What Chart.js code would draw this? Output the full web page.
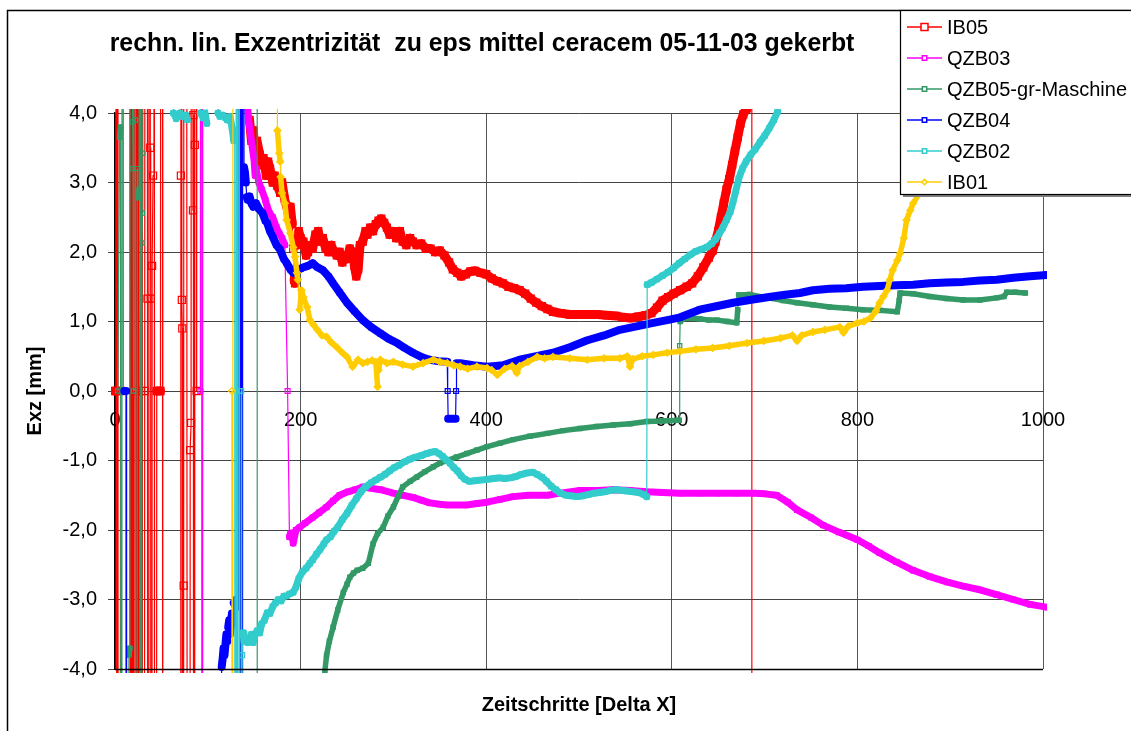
<!DOCTYPE html>
<html>
<head>
<meta charset="utf-8">
<script src="https://cdn.jsdelivr.net/npm/chart.js@4.4.1/dist/chart.umd.min.js"></script>
<style>
html,body{margin:0;padding:0;background:#fff;}
#wrap{width:1131px;height:731px;}
</style>
</head>
<body>
<div id="wrap"><canvas id="c" width="1131" height="731"></canvas></div>
<script>
// ---- data (x = Zeitschritte, y = Exz [mm]); values beyond the axis range are off-chart excursions
const IB05 = [[0,0],[1,0],[1.5,60],[2,-60],[3,60],[3.5,-60],[6,0],[16,-60],[16.5,60],[17,-60],[18,60],[18.5,-60],[19,60],[20,-60],[21,60],[22,0],[22.5,-60],[24,60],[25,-60],[25.5,60],[26,0],[27,-60],[28,0],[29,60],[30,-60],[32,0],[34,60],[35,1.33],[36,-60],[37,60],[38,3.5],[38.5,1.33],[39,-60],[40,1.8],[41,3.1],[42,60],[43,-60],[45,0],[49,0],[51,60],[51.5,-60],[70,-60],[71,3.1],[71.5,60],[72,1.31],[72.5,0.9],[73,-60],[74,-2.8],[75,60],[80,-60],[81,-0.85],[82,-0.46],[83,60],[84,2.6],[84.5,3.97],[85,-60],[86,3.54],[87,60],[88,0],[89,60],
[145,3.9],[147,3.6],[149,3.75],[151,3.45],[153,3.6],[156,3.4],[158,3.25],[160,3.35],[163,3.1],[165,3.3],[167,3.2],[170,3.0],[172,3.1],[175,2.95],[178,2.85],[180,3.0],[183,2.75],[186,2.6],[189,2.65],[191,2.4],[192,2.05],[193,1.6],[194,1.55],[196,2.1],[198,2.3],[200,2.2],[203,2.15],[206,1.95],[208,2.0],[211,2.1],[213,2.05],[216,2.25],[219,2.3],[221,2.15],[224,2.2],[227,2.05],[230,2.0],[233,2.1],[236,2.0],[239,1.95],[242,2.0],[245,1.85],[248,1.95],[250,1.9],[253,2.05],[256,2.0],[258,1.8],[260,1.65],[262,1.75],[264,2.1],[267,2.15],[270,2.3],[272,2.25],[275,2.35],[278,2.3],[281,2.4],[284,2.45],[287,2.48],[290,2.42],[293,2.35],[296,2.25],[300,2.3],[303,2.2],[307,2.3],[310,2.15],[314,2.1],[318,2.2],[321,2.15],[325,2.1],[330,2.12],[335,2.05],[340,2.05],[345,2.0],[350,2.02],[355,1.95],[360,1.85],[364,1.75],[369,1.7],[373,1.65],[378,1.68],[383,1.72],[388,1.73],[394,1.7],[400,1.68],[406,1.62],[412,1.58],[418,1.55],[424,1.5],[430,1.48],[436,1.45],[442,1.4],[448,1.33],[454,1.27],[460,1.22],[466,1.18],[472,1.14],[480,1.12],[490,1.1],[500,1.1],[510,1.1],[520,1.1],[530,1.09],[540,1.08],[548,1.06],[556,1.05],[564,1.07],[572,1.09],[578,1.12],[584,1.2],[590,1.3],[596,1.35],[602,1.4],[609,1.45],[616,1.5],[622,1.55],[628,1.65],[634,1.78],[640,1.92],[644,2.02],[647,2.15],[650,2.3],[653,2.5],[656,2.7],[659,2.9],[662,3.05],[665,3.25],[668,3.45],[671,3.65],[674,3.85],[677,3.98],[680,4.05],[681,4.1],[686,60],[686.5,-60]];

const QZB03 = [[92,0],[93,60],[94,-60],[95,60],[143,4.1],[144,3.9],[146,3.7],[148,3.5],[150,3.3],[151,3.1],[152,3.2],[155,3.0],[158,2.9],[162,2.75],[164,2.65],[167,2.55],[170,2.5],[174,2.35],[177,2.27],[180,2.2],[183,2.1],[186,0],[188,-2.1],[189,-2.05],[191,-2.04],[192,-2.19],[195,-2.0],[199,-1.96],[205,-1.9],[213,-1.82],[220,-1.75],[228,-1.67],[235,-1.58],[242,-1.5],[251,-1.45],[259,-1.42],[267,-1.38],[276,-1.4],[286,-1.42],[300,-1.47],[310,-1.5],[321,-1.53],[330,-1.57],[339,-1.61],[350,-1.63],[358,-1.64],[368,-1.64],[379,-1.64],[390,-1.62],[401,-1.6],[415,-1.56],[429,-1.52],[445,-1.5],[466,-1.5],[480,-1.47],[501,-1.43],[520,-1.43],[537,-1.42],[555,-1.43],[573,-1.45],[590,-1.46],[609,-1.47],[630,-1.47],[650,-1.47],[670,-1.47],[690,-1.47],[700,-1.48],[713,-1.5],[725,-1.6],[735,-1.71],[750,-1.82],[763,-1.93],[780,-2.03],[800,-2.14],[812,-2.23],[824,-2.33],[842,-2.46],[860,-2.58],[878,-2.67],[897,-2.75],[915,-2.81],[932,-2.86],[950,-2.93],[968,-3.0],[986,-3.07],[1004,-3.11]];

const QZB05 = [[3,0],[5,3.65],[6,3.8],[7,-60],[8,60],[9,0],[12,0],[14,-60],[15,-3.8],[16,-3.7],[17,60],[19,3.87],[19.5,3.2],[20,0],[21,60],[22,3.9],[23,-60],[24,3.2],[25,2.78],[26,2.9],[27,60],[28,-60],[29,2.13],[29.5,2.56],[30,3.42],[31,60],[153,60],[153.5,-60],
[226,-4.05],[228,-3.8],[231,-3.6],[235,-3.4],[240,-3.15],[246,-2.9],[250,-2.78],[253,-2.68],[257,-2.62],[261,-2.58],[267,-2.55],[273,-2.48],[278,-2.2],[283,-2.05],[289,-1.96],[294,-1.8],[300,-1.67],[305,-1.52],[310,-1.38],[318,-1.3],[325,-1.24],[334,-1.16],[343,-1.09],[350,-1.04],[358,-1.0],[368,-0.95],[379,-0.9],[390,-0.85],[401,-0.8],[415,-0.75],[429,-0.7],[447,-0.65],[466,-0.61],[483,-0.57],[501,-0.54],[519,-0.51],[537,-0.49],[555,-0.47],[573,-0.44],[590,-0.43],[608,-0.42],[608.5,0.65],[609,1.0],[615,1.05],[630,1.04],[640,1.02],[649,1.02],[660,1.0],[670,0.98],[671,1.17],[672,1.38],[684,1.39],[698,1.35],[710,1.33],[720,1.3],[735,1.27],[752,1.24],[770,1.21],[788,1.19],[806,1.17],[825,1.16],[843,1.14],[845,1.3],[846,1.41],[860,1.4],[878,1.36],[896,1.33],[914,1.31],[932,1.31],[950,1.34],[958,1.36],[961,1.42],[970,1.42],[981,1.41]];

const QZB04 = [[10,0],[12,0],[12.5,-60],[115,-3.97],[116,-3.85],[117,-3.7],[118,-3.8],[120,-3.5],[121,-3.6],[122,-3.4],[123,-3.3],[124,-3.5],[126,-3.2],[127,-3.35],[128,-3.05],[130,-3.1],[131,-3.0],[133,-3.1],[134,60],[135,-60],[136,60],[137,-60],[138,60],[139,3.22],[140,3.15],[141,3.0],[142,2.79],[143,2.75],[145,2.8],[147,2.7],[149,2.65],[152,2.7],[155,2.62],[159,2.56],[162,2.45],[164,2.42],[167,2.3],[170,2.22],[174,2.1],[178,2.03],[182,1.9],[185,1.84],[189,1.75],[192,1.7],[196,1.74],[200,1.76],[203,1.78],[208,1.8],[213,1.84],[218,1.78],[224,1.74],[230,1.65],[235,1.55],[242,1.42],[250,1.27],[258,1.15],[267,1.02],[276,0.92],[286,0.83],[295,0.75],[304,0.69],[312,0.62],[321,0.55],[330,0.49],[339,0.45],[348,0.43],[358,0.42],[358.5,0],[359,-0.4],[363,-0.4],[367,-0.4],[367.5,0],[368,0.4],[372,0.4],[386,0.37],[401,0.35],[410,0.36],[418,0.37],[427,0.41],[436,0.45],[454,0.5],[472,0.55],[490,0.63],[509,0.73],[527,0.8],[544,0.88],[562,0.93],[580,0.98],[595,1.02],[609,1.06],[630,1.17],[648,1.22],[666,1.27],[684,1.31],[703,1.35],[720,1.38],[738,1.41],[752,1.45],[770,1.47],[788,1.48],[806,1.5],[824,1.51],[842,1.52],[860,1.53],[878,1.55],[896,1.56],[914,1.57],[932,1.59],[950,1.6],[968,1.63],[986,1.65],[1004,1.67]];

const QZB02 = [[60,60],[63,4.0],[66,3.92],[70,4.0],[73,3.95],[76,3.97],[78,3.9],[80,60],[90,60],[92,4.0],[95,3.93],[97,4.0],[99,3.85],[102,60],[108,60],[111,4.0],[113,3.95],[116,3.97],[119,3.93],[121,3.9],[124,3.95],[126,3.8],[128,3.6],[129,3.75],[130,-60],[131,60],[132,-60],[133,60],[134,0],[135,-60],[136,0],[136.5,-60],[137,-3.8],[138,-3.48],[139,-3.6],[141,-3.55],[143,-3.62],[145,-3.6],[147,-3.5],[149,-3.62],[151,-3.5],[153,-3.45],[156,-3.48],[158,-3.35],[161,-3.3],[164,-3.19],[167,-3.2],[170,-3.1],[173,-3.05],[176,-3.0],[179,-3.02],[182,-2.95],[185,-2.95],[188,-2.92],[192,-2.9],[195,-2.82],[198,-2.7],[202,-2.6],[206,-2.55],[210,-2.48],[213,-2.43],[217,-2.35],[221,-2.28],[225,-2.2],[228,-2.14],[232,-2.1],[236,-2.02],[240,-1.96],[245,-1.85],[250,-1.76],[255,-1.65],[260,-1.55],[265,-1.45],[270,-1.38],[276,-1.32],[281,-1.28],[286,-1.24],[291,-1.2],[296,-1.15],[301,-1.1],[306,-1.07],[312,-1.02],[318,-0.98],[324,-0.95],[330,-0.93],[336,-0.9],[341,-0.88],[345,-0.87],[349,-0.9],[353,-0.94],[357,-0.99],[361,-1.04],[365,-1.1],[369,-1.15],[373,-1.22],[377,-1.27],[382,-1.3],[388,-1.29],[395,-1.28],[402,-1.27],[408,-1.26],[414,-1.25],[420,-1.26],[426,-1.25],[432,-1.23],[438,-1.2],[444,-1.18],[450,-1.17],[455,-1.2],[460,-1.24],[465,-1.3],[470,-1.37],[475,-1.42],[480,-1.47],[486,-1.5],[492,-1.51],[498,-1.52],[504,-1.51],[510,-1.49],[516,-1.47],[522,-1.46],[528,-1.45],[534,-1.43],[540,-1.42],[546,-1.43],[552,-1.44],[558,-1.45],[564,-1.46],[570,-1.49],[573,-1.52],[573.5,1.53],[578,1.56],[584,1.61],[590,1.66],[596,1.71],[602,1.77],[608,1.84],[614,1.9],[620,1.96],[626,2.01],[632,2.04],[638,2.07],[643,2.12],[647,2.18],[651,2.26],[655,2.35],[659,2.46],[663,2.58],[666,2.72],[669,2.88],[672,3.05],[676,3.2],[680,3.3],[685,3.4],[690,3.48],[695,3.58],[700,3.67],[705,3.78],[710,3.9],[714,4.02]];

const IB01 = [[126,0],[126.5,-60],[127,60],[174,60],[175,3.75],[177,3.42],[178,3.3],[178.5,3.08],[180,2.85],[183,2.7],[185,2.46],[189,2.27],[192,2.07],[194,1.93],[196,1.7],[197,1.6],[199,1.17],[201,1.45],[203,1.35],[207,1.21],[210,1.02],[214,0.95],[218,0.88],[223,0.8],[228,0.78],[233,0.7],[239,0.63],[245,0.55],[250,0.49],[256,0.35],[262,0.45],[267,0.4],[272,0.42],[277,0.44],[281,0.42],[283,0.06],[284,0.3],[286,0.45],[293,0.4],[300,0.42],[310,0.38],[321,0.35],[332,0.4],[343,0.45],[350,0.42],[358,0.4],[365,0.37],[372,0.35],[380,0.32],[390,0.35],[401,0.33],[406,0.3],[412,0.23],[420,0.32],[428,0.36],[433,0.26],[436,0.36],[445,0.42],[455,0.49],[463,0.47],[472,0.49],[490,0.47],[509,0.45],[527,0.47],[544,0.47],[552,0.5],[555,0.35],[558,0.46],[568,0.5],[580,0.52],[595,0.55],[609,0.57],[626,0.6],[644,0.62],[662,0.65],[681,0.69],[699,0.72],[717,0.76],[730,0.8],[735,0.72],[740,0.8],[752,0.85],[765,0.88],[781,0.92],[785,0.84],[790,0.93],[800,0.98],[807,1.0],[814,1.05],[820,1.15],[824,1.27],[828,1.36],[832,1.45],[835,1.6],[838,1.74],[843,1.88],[846,1.98],[850,2.2],[853,2.46],[857,2.6],[860,2.7],[867,2.85],[875,3.1],[885,3.5],[895,3.9],[900,4.1]];

const seriesNames = ['IB05','QZB03','QZB05-gr-Maschine','QZB04','QZB02','IB01'];
const xTicks = [0,200,400,600,800,1000];
const yTicks = [-4,-3,-2,-1,0,1,2,3,4];
const titleText = 'rechn. lin. Exzentrizität  zu eps mittel ceracem 05-11-03 gekerbt';
const xTitle = 'Zeitschritte [Delta X]';
const yTitle = 'Exz [mm]';

// ---- styles
const FONT = "'Liberation Sans', Arial, Helvetica, sans-serif";
const styles = [
  {color:'#FF0000', style:'rect', r:5,   band:9},
  {color:'#FF00FF', style:'rect', r:3.5, band:7},
  {color:'#339966', style:'rect', r:3,   band:5.5},
  {color:'#0000FF', style:'rect', r:3.5, band:8},
  {color:'#33CCCC', style:'rect', r:3.5, band:7},
  {color:'#FFCC00', style:'rectRot', r:3.5, band:5.5}
];
const allData = [IB05, QZB03, QZB05, QZB04, QZB02, IB01];

function segWidth(band){
  return ctx => {
    const a = ctx.p0.parsed, b = ctx.p1.parsed;
    if (Math.abs(a.y) > 4.3 || Math.abs(b.y) > 4.3) return 1.2;
    const dx = Math.abs(b.x - a.x), dy = Math.abs(b.y - a.y);
    if (dy / Math.max(dx, 1e-6) > 0.2) return 1.2;
    return band;
  };
}

const datasets = allData.map((arr, i) => ({
  label: seriesNames[i],
  data: arr.map(p => ({x: p[0], y: p[1]})),
  borderColor: styles[i].color,
  backgroundColor: 'rgba(0,0,0,0)',
  borderWidth: 1.2,
  pointStyle: styles[i].style,
  pointRadius: styles[i].r,
  pointBorderColor: styles[i].color,
  pointBackgroundColor: 'rgba(255,255,255,0)',
  pointBorderWidth: 1.2,
  tension: 0,
  spanGaps: false,
  clip: 4,
  order: 6 - i,
  segment: {borderWidth: segWidth(styles[i].band)},
  borderJoinStyle: 'round',
  borderCapStyle: 'round'
}));

const decor = {
  id: 'decor',
  beforeDraw(chart){
    const ctx = chart.ctx;
    ctx.save();
    ctx.fillStyle = '#fff';
    ctx.fillRect(0,0,chart.width,chart.height);
    ctx.restore();
  },
  afterDraw(chart){
    const ctx = chart.ctx, a = chart.chartArea;
    ctx.save();
    // plot bottom line
    ctx.strokeStyle = '#000'; ctx.lineWidth = 1.5;
    ctx.beginPath(); ctx.moveTo(a.left, a.bottom + 0.5); ctx.lineTo(a.right, a.bottom + 0.5); ctx.stroke();
    // outer chart border
    ctx.lineWidth = 1.5;
    ctx.beginPath(); ctx.moveTo(7.5, chart.height + 5); ctx.lineTo(7.5, 10.5); ctx.lineTo(chart.width + 5, 10.5); ctx.stroke();
    // title
    ctx.fillStyle = '#000';
    ctx.font = 'bold 24px ' + FONT;
    const w = ctx.measureText(titleText).width;
    const fs = 24 * 745 / w;
    ctx.font = 'bold ' + fs.toFixed(2) + 'px ' + FONT;
    ctx.textAlign = 'center'; ctx.textBaseline = 'middle';
    ctx.fillText(titleText, 482, 44);
    // axis titles
    ctx.font = 'bold 20px ' + FONT;
    ctx.fillText(xTitle, (a.left + a.right) / 2, 705);
    ctx.save();
    ctx.translate(35, (a.top + a.bottom) / 2);
    ctx.rotate(-Math.PI / 2);
    ctx.fillText(yTitle, 0, 0);
    ctx.restore();
    // legend
    const lx = 900, ly = 10, lw = 240, lh = 184;
    ctx.fillStyle = '#808080';
    ctx.fillRect(lx + 3, ly + lh, lw, 3);
    ctx.fillStyle = '#fff';
    ctx.fillRect(lx, ly, lw, lh);
    ctx.strokeStyle = '#000'; ctx.lineWidth = 1.2;
    ctx.strokeRect(lx + 0.5, ly + 0.5, lw, lh);
    ctx.font = '20px ' + FONT;
    ctx.textAlign = 'left'; ctx.textBaseline = 'middle';
    seriesNames.forEach((name, i) => {
      const y = 27 + i * 31;
      const s = styles[i];
      ctx.strokeStyle = s.color; ctx.lineWidth = 1.5;
      ctx.beginPath(); ctx.moveTo(907, y); ctx.lineTo(942, y); ctx.stroke();
      ctx.save();
      ctx.strokeStyle = s.color; ctx.fillStyle = '#fff'; ctx.lineWidth = 1.5;
      const r = i === 0 ? 3.5 : 2.2;
      if (s.style === 'rectRot') {
        ctx.beginPath(); ctx.moveTo(924.5, y - r - 0.5); ctx.lineTo(924.5 + r + 0.5, y); ctx.lineTo(924.5, y + r + 0.5); ctx.lineTo(924.5 - r - 0.5, y); ctx.closePath();
      } else {
        ctx.beginPath(); ctx.rect(924.5 - r, y - r, 2 * r, 2 * r);
      }
      ctx.fill(); ctx.stroke();
      ctx.restore();
      ctx.fillStyle = '#000';
      ctx.fillText(name, 947, y + 1);
    });
    ctx.restore();
  }
};

Chart.defaults.font.family = FONT;
Chart.defaults.color = '#000';

new Chart(document.getElementById('c'), {
  type: 'line',
  data: {datasets},
  options: {
    responsive: false,
    animation: false,
    events: [],
    layout: {padding: {top: 113, right: 88, left: 0, bottom: 62}},
    plugins: {legend: {display: false}, title: {display: false}, tooltip: {enabled: false}},
    scales: {
      x: {
        type: 'linear', min: 0, max: 1000,
        position: {y: 0},
        afterFit: s => { s.height = 62; },
        afterBuildTicks: s => { s.ticks = xTicks.map(v => ({value: v})); },
        ticks: {font: {size: 20}, padding: 12, maxRotation: 0, autoSkip: false, callback: v => String(v)},
        grid: {color: '#555', lineWidth: 1, tickLength: 5, drawTicks: true},
        border: {color: '#444', width: 1}
      },
      y: {
        type: 'linear', min: -4, max: 4,
        position: 'left',
        afterFit: s => { s.width = 115; },
        afterBuildTicks: s => { s.ticks = yTicks.map(v => ({value: v})); },
        ticks: {font: {size: 20}, padding: 11, autoSkip: false, callback: v => v.toFixed(1).replace('.', ',')},
        grid: {color: '#444', lineWidth: 1, tickLength: 7},
        border: {color: '#000', width: 1.5}
      }
    }
  },
  plugins: [decor]
});
</script>
</body>
</html>
